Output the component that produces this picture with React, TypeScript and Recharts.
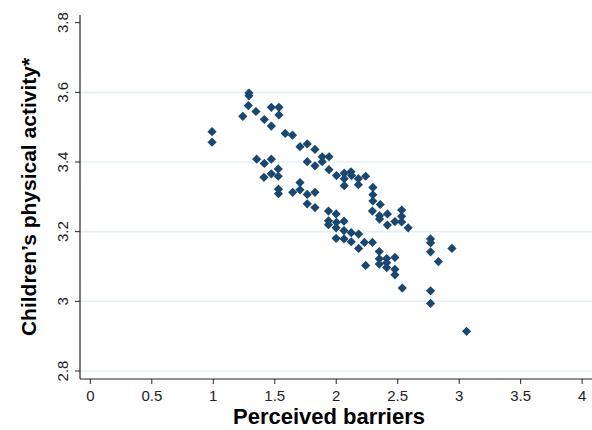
import { ScatterChart, Scatter, XAxis, YAxis, CartesianGrid, Label } from "recharts"

// Perceived barriers (x) and children's physical activity (y)
const barriers = [
  0.99, 0.99, 1.24, 1.29, 1.29, 1.285, 1.347, 1.415, 1.472, 1.534, 1.534, 1.472, 1.585, 1.644,
  1.705, 1.764, 1.827, 1.886, 1.941, 1.886, 1.764, 1.827, 1.941, 2.002, 2.065, 2.12, 2.065,
  2.125, 2.065, 2.18, 2.239, 2.18, 2.298, 2.298, 2.298, 2.358, 2.294, 2.352, 2.352, 2.416,
  2.532, 2.532, 2.532, 2.477, 2.416, 2.585,
  1.353, 1.415, 1.472, 1.528, 1.472, 1.412, 1.528, 1.53, 1.53, 1.646, 1.705, 1.705, 1.764,
  1.827, 1.764, 1.827, 1.937, 1.999, 1.937, 1.937, 2.002, 2.063, 1.999, 2.063, 2.122, 2.182,
  1.999, 2.063, 2.122, 2.182, 2.229, 2.294, 2.35, 2.35, 2.35, 2.41, 2.41, 2.41, 2.477, 2.477,
  2.477, 2.239, 2.537,
  2.767, 2.767, 2.767, 2.941, 2.831, 2.767, 2.767, 3.06,
]

const activity = [
  3.487, 3.457, 3.531, 3.598, 3.59, 3.562, 3.545, 3.522, 3.557, 3.557, 3.535, 3.503, 3.482, 3.477,
  3.444, 3.452, 3.436, 3.415, 3.415, 3.401, 3.401, 3.389, 3.378, 3.361, 3.368, 3.372, 3.352,
  3.361, 3.332, 3.352, 3.359, 3.335, 3.327, 3.306, 3.288, 3.278, 3.259, 3.246, 3.236, 3.251,
  3.262, 3.244, 3.228, 3.229, 3.219, 3.211,
  3.408, 3.396, 3.408, 3.38, 3.366, 3.356, 3.359, 3.322, 3.309, 3.313, 3.341, 3.32, 3.307,
  3.313, 3.28, 3.269, 3.259, 3.251, 3.231, 3.22, 3.227, 3.23, 3.211, 3.203, 3.197, 3.193,
  3.181, 3.179, 3.171, 3.152, 3.169, 3.169, 3.143, 3.122, 3.107, 3.123, 3.111, 3.097, 3.126, 3.092,
  3.076, 3.103, 3.038,
  3.179, 3.168, 3.142, 3.152, 3.114, 3.03, 2.994, 2.914,
]

const xTicks = [0, 0.5, 1, 1.5, 2, 2.5, 3, 3.5, 4]
const yTicks = [2.8, 3, 3.2, 3.4, 3.6, 3.8]
const gridLines = [2.8, 3, 3.2, 3.4, 3.6]

const data = barriers.map((b, i) => ({ barriers: b, activity: activity[i] }))

const font = "'Liberation Sans', Arial, Helvetica, sans-serif"
const navy = "#1a476f"
const ink = "#222"

function Diamond(props: any) {
  const { cx, cy } = props
  const r = 4.6
  return (
    <polygon
      points={`${cx},${cy - r} ${cx + r},${cy} ${cx},${cy + r} ${cx - r},${cy}`}
      fill={navy}
    />
  )
}

function YTick({ x, y, payload }: any) {
  return (
    <text
      x={x}
      y={y}
      transform={`rotate(-90, ${x}, ${y})`}
      textAnchor="middle"
      dominantBaseline="central"
      fontSize={15}
      fontFamily={font}
      fill={ink}
    >
      {payload.value}
    </text>
  )
}

export default function App() {
  return (
    <div style={{ position: "absolute", left: 0, top: 0, background: "#fff" }}>
      <ScatterChart
        width={592}
        height={430}
        margin={{ top: 15, right: 0, bottom: 0, left: 0 }}
      >
        <CartesianGrid
          vertical={false}
          horizontalValues={gridLines}
          stroke="#e6eff3"
          strokeWidth={1.6}
        />
        <XAxis
          type="number"
          dataKey="barriers"
          domain={[-0.084, 4.08]}
          allowDataOverflow
          ticks={xTicks}
          height={51}
          tickSize={5}
          tickMargin={6}
          axisLine={{ stroke: ink, strokeWidth: 1.2 }}
          tickLine={{ stroke: ink }}
          tick={{ fontSize: 15, fill: ink, fontFamily: font }}
        >
          <Label
            content={({ viewBox }: any) => (
              <text
                x={viewBox.x + viewBox.width / 2 - 7}
                y={viewBox.y + 45}
                textAnchor="middle"
                fontSize={22}
                fontWeight="bold"
                fontFamily={font}
                fill="#000"
              >
                Perceived barriers
              </text>
            )}
          />
        </XAxis>
        <YAxis
          type="number"
          dataKey="activity"
          domain={[2.777, 3.822]}
          allowDataOverflow
          ticks={yTicks}
          width={80}
          tickSize={5}
          tickMargin={12}
          axisLine={{ stroke: ink, strokeWidth: 1.2 }}
          tickLine={{ stroke: ink }}
          tick={<YTick />}
        >
          <Label
            content={({ viewBox }: any) => {
              const cx = 28
              const cy = viewBox.y + viewBox.height / 2
              return (
                <text
                  x={cx}
                  y={cy}
                  transform={`rotate(-90, ${cx}, ${cy})`}
                  textAnchor="middle"
                  dominantBaseline="central"
                  fontSize={21}
                  fontWeight="bold"
                  fontFamily={font}
                  fill="#000"
                >
                  Children’s physical activity*
                </text>
              )
            }}
          />
        </YAxis>
        <Scatter data={data} shape={<Diamond />} isAnimationActive={false} />
      </ScatterChart>
    </div>
  )
}
